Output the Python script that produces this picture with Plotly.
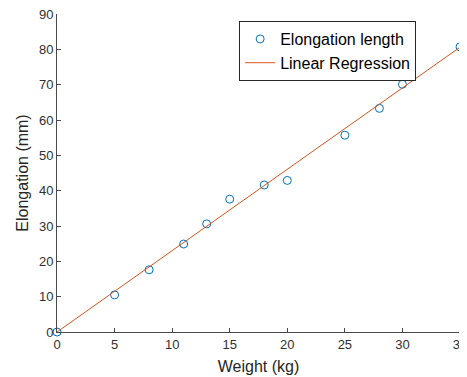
import plotly.graph_objects as go

weight_kg = [0, 5, 8, 11, 13, 15, 18, 20, 25, 28, 30, 35]
elongation_mm = [0, 10.5, 17.6, 24.9, 30.6, 37.6, 41.6, 42.9, 55.7, 63.3, 70.1, 80.7]
fit_x = [0, 35]
fit_y = [0, 80.6]

fig = go.Figure()
fig.add_trace(go.Scatter(
    x=weight_kg, y=elongation_mm, mode="markers", name="Elongation length",
    marker=dict(symbol="circle-open", size=8, color="#0072BD", line=dict(width=1, color="#0072BD")),
    cliponaxis=False,
))
fig.add_trace(go.Scatter(
    x=fit_x, y=fit_y, mode="lines", name="Linear Regression",
    line=dict(color="#D95319", width=1), cliponaxis=False,
))

axis_common = dict(
    showgrid=False, zeroline=False, showline=True, linecolor="#4a4a4a", linewidth=1,
    ticks="inside", ticklen=4, tickcolor="#4a4a4a", mirror=False, automargin=False,
    ticklabeloverflow="allow",
    tickfont=dict(family="Liberation Sans, Arial, sans-serif", size=13, color="#303030"),
)
# page body has an 8px default margin, so the figure is 8px smaller and offset
fig.update_layout(
    width=459, height=369,
    margin=dict(l=49, r=7, t=6, b=45),
    paper_bgcolor="white", plot_bgcolor="white",
    font=dict(family="Liberation Sans, Arial, sans-serif", color="#262626"),
    xaxis=dict(range=[0, 35], tickvals=[0, 5, 10, 15, 20, 25, 30, 35],
               title=dict(text="Weight (kg)", font=dict(size=16), standoff=10), **axis_common),
    yaxis=dict(range=[0, 90], tickvals=[0, 10, 20, 30, 40, 50, 60, 70, 80, 90],
               title=dict(text="Elongation (mm)", font=dict(size=16), standoff=6), **axis_common),
    legend=dict(x=0.452, y=0.978, xanchor="left", yanchor="top",
                bordercolor="#262626", borderwidth=1, bgcolor="white",
                font=dict(size=16, color="black"), tracegroupgap=0),
    showlegend=True,
)
fig.write_html("out.html")
